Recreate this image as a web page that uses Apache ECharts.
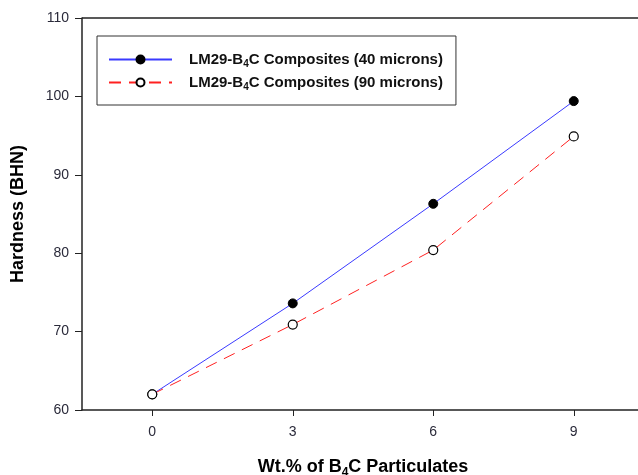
<!DOCTYPE html>
<html>
<head>
<meta charset="utf-8">
<script src="https://cdn.jsdelivr.net/npm/echarts@6/dist/echarts.min.js"></script>
<style>
  html, body { margin: 0; padding: 0; background: #fff; }
  #chart { width: 638px; height: 475px; }
</style>
</head>
<body>
<div id="chart"></div>
<script>
// values
var wtPercent = [0, 3, 6, 9];
var hard40 = [62, 73.6, 86.3, 99.4];
var hard90 = [62, 70.9, 80.4, 94.9];
var xTicks = [0, 3, 6, 9];

var chart = echarts.init(document.getElementById('chart'));
var font = 'Arial, "Liberation Sans", sans-serif';

function pairs(xs, ys) {
    return xs.map(function (x, i) { return [x, ys[i]]; });
}

var option = {
    animation: false,
    grid: { left: 82, top: 18, right: -6, bottom: 65, show: false, outerBoundsMode: 'none', containLabel: false },
    legend: {
        left: 97, top: 36,
        orient: 'vertical',
        padding: [14, 13, 13, 11],
        borderColor: '#333',
        borderWidth: 1,
        itemWidth: 63,
        itemHeight: 10,
        itemGap: 4,
        selectedMode: false,
        data: ['s40', 's90'],
        formatter: function (name) {
            return name === 's40'
                ? 'LM29-B{sub|4}C Composites (40 microns)'
                : 'LM29-B{sub|4}C Composites (90 microns)';
        },
        textStyle: {
            fontFamily: font, fontSize: 15, fontWeight: 'bold', color: '#111',
            padding: [0, 0, 0, 12], lineHeight: 18,
            rich: { sub: { fontFamily: font, fontSize: 10, fontWeight: 'bold', padding: [9, 0, 0, 0], lineHeight: 18, color: '#111' } }
        }
    },
    xAxis: {
        type: 'value', min: -1.5, max: 10.5,
        name: 'Wt.% of B{sub|4}C Particulates',
        nameLocation: 'middle', nameGap: 46,
        nameTextStyle: {
            fontFamily: font, fontSize: 18, fontWeight: 'bold', color: '#000',
            rich: { sub: { fontFamily: font, fontSize: 12, fontWeight: 'bold', padding: [11, 0, 0, 0], color: '#000' } }
        },
        axisLine: { show: true, onZero: false, lineStyle: { color: '#222', width: 1.5 } },
        axisTick: { show: true, customValues: xTicks, length: 6, lineStyle: { color: '#222' } },
        axisLabel: { customValues: xTicks, fontFamily: font, fontSize: 14, color: '#2a2a3a', margin: 15 },
        splitLine: { show: false }
    },
    yAxis: {
        type: 'value', min: 60, max: 110, interval: 10,
        name: 'Hardness (BHN)',
        nameLocation: 'middle', nameGap: 55,
        nameTextStyle: { fontFamily: font, fontSize: 18, fontWeight: 'bold', color: '#000' },
        axisLine: { show: true, onZero: false, lineStyle: { color: '#222', width: 1.5 } },
        axisTick: { show: true, length: 7, lineStyle: { color: '#222' } },
        axisLabel: { fontFamily: font, fontSize: 14, color: '#2a2a3a', margin: 13 },
        splitLine: { show: false }
    },
    series: [
        {
            name: 's40', type: 'line',
            data: pairs(wtPercent, hard40),
            symbol: 'circle', symbolSize: 9,
            lineStyle: { color: '#3a3aff', width: 1 },
            itemStyle: { color: '#000', borderColor: '#000', borderWidth: 1 },
            z: 2
        },
        {
            name: 's90', type: 'line',
            data: pairs(wtPercent, hard90),
            symbol: 'circle', symbolSize: 9,
            lineStyle: { color: '#ff2020', width: 1, type: [12, 8] },
            itemStyle: { color: '#fff', borderColor: '#000', borderWidth: 1.2 },
            z: 3
        }
    ],
    graphic: [
        // top frame line
        { type: 'line', shape: { x1: 82, y1: 18, x2: 638, y2: 18 }, style: { stroke: '#222', lineWidth: 1.5 } }
    ]
};
chart.setOption(option);
</script>
</body>
</html>
